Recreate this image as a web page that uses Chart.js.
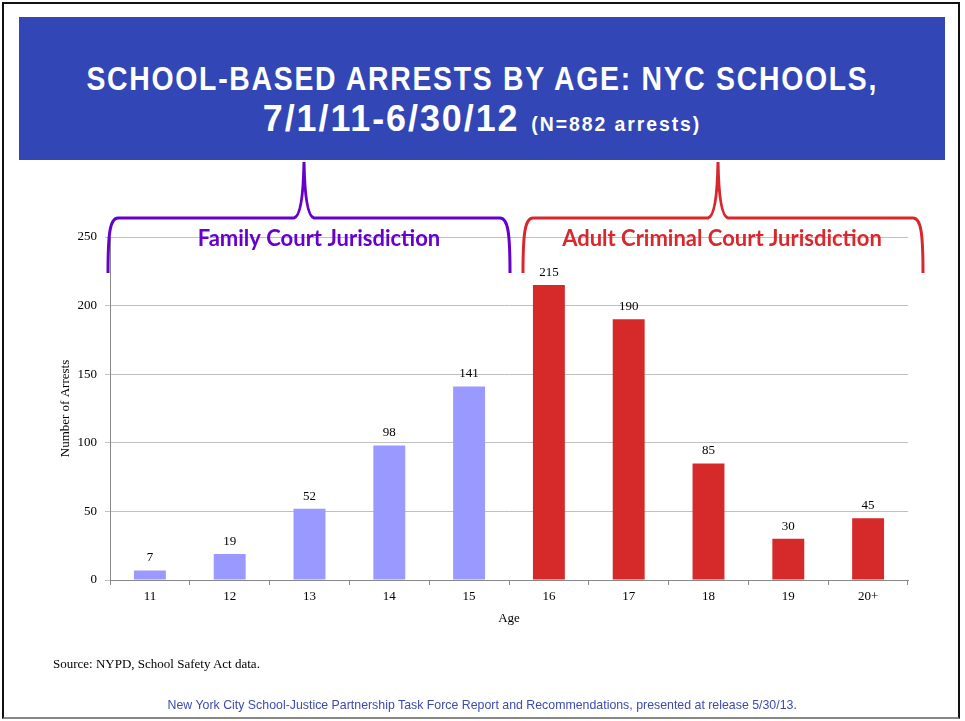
<!DOCTYPE html>
<html>
<head>
<meta charset="utf-8">
<script src="https://cdn.jsdelivr.net/npm/chart.js@4/dist/chart.umd.min.js"></script>
<style>
  html, body { margin: 0; padding: 0; background: #fff; }
  #page { position: relative; width: 965px; height: 721px; overflow: hidden; }
  #frame { position: absolute; left: 2px; top: 2px; width: 954px; height: 713px; border: 2px solid #111; border-bottom-color: #888; }
  #titleBox { position: absolute; left: 19px; top: 17px; width: 926px; height: 143px; background: #3247b5; color: #fff;
    font-family: "Liberation Sans", Arial, sans-serif; font-weight: bold; text-align: center; letter-spacing: 2px; }
  #titleBox span { display: inline-block; white-space: nowrap; }
  #t1 { position: absolute; left: 0; right: 0; top: 42px; font-size: 33px; line-height: 40px; }
  #t1 span { transform: scaleX(0.86); }
  #t2 { position: absolute; left: 0; right: 0; top: 80px; font-size: 37px; line-height: 44px; }
  #t2 span { transform: scaleX(0.97); }
  #t2 small { font-size: 20px; letter-spacing: 2px; }
  #source { position: absolute; left: 53px; top: 656px; font-family: "Liberation Serif", serif; font-size: 13px; color: #000; }
  #footer { position: absolute; left: 0; width: 965px; top: 697px; text-align: center; font-family: "Liberation Sans", Arial, sans-serif; font-size: 13px; color: #3c4bb0; }
  #footer span { display: inline-block; transform: scaleX(0.95); white-space: nowrap; }
  #chartWrap { position: absolute; left: 0; top: 0; width: 965px; height: 721px; }
</style>
</head>
<body>
<div id="page">
  <div id="frame"></div>
  <div id="titleBox">
    <div id="t1"><span>SCHOOL-BASED ARRESTS BY AGE: NYC SCHOOLS,</span></div>
    <div id="t2"><span>7/1/11-6/30/12 <small>(N=882 arrests)</small></span></div>
  </div>
  <div id="chartWrap"><canvas id="chartCanvas" width="965" height="721"></canvas></div>
  <div id="source">Source: NYPD, School Safety Act data.</div>
  <div id="footer"><span>New York City School-Justice Partnership Task Force Report and Recommendations, presented at release 5/30/13.</span></div>
</div>
<script>
const ages = ["11", "12", "13", "14", "15", "16", "17", "18", "19", "20+"];
const arrests = [7, 19, 52, 98, 141, 215, 190, 85, 30, 45];
const yTicks = [0, 50, 100, 150, 200, 250];
const familyColor = "#9999ff";
const adultColor = "#d62a2a";
const barColors = ages.map((_, i) => (i < 5 ? familyColor : adultColor));

// value labels above bars
const valueLabels = {
  id: "valueLabels",
  afterDatasetsDraw(chart) {
    const ctx = chart.ctx;
    const meta = chart.getDatasetMeta(0);
    ctx.save();
    ctx.font = "13px 'Liberation Serif', serif";
    ctx.fillStyle = "#000";
    ctx.textAlign = "center";
    ctx.textBaseline = "bottom";
    meta.data.forEach((bar, i) => {
      ctx.fillText(String(arrests[i]), bar.x, bar.y - 6);
    });
    ctx.restore();
  }
};

// curly braces over the two groups
function drawBrace(ctx, x1, x2, xm, yTop, yBar, yEnd, color) {
  ctx.beginPath();
  ctx.moveTo(x1, yEnd);
  ctx.bezierCurveTo(x1, yBar + 15, x1 + 2, yBar, x1 + 10, yBar);
  ctx.lineTo(xm - 10, yBar);
  ctx.quadraticCurveTo(xm - 1, yBar - 2, xm, yTop);
  ctx.quadraticCurveTo(xm + 1, yBar - 2, xm + 10, yBar);
  ctx.lineTo(x2 - 10, yBar);
  ctx.bezierCurveTo(x2 - 2, yBar, x2, yBar + 15, x2, yEnd);
  ctx.strokeStyle = color;
  ctx.lineWidth = 3;
  ctx.stroke();
}

const braces = {
  id: "braces",
  afterDraw(chart) {
    const ctx = chart.ctx;
    const x = chart.scales.x;
    const half = (x.getPixelForValue(1) - x.getPixelForValue(0)) / 2;
    const fL = x.getPixelForValue(0) - half - 2;
    const fR = x.getPixelForValue(4) + half + 1;
    const aL = x.getPixelForValue(5) - half + 14;
    const aR = x.getPixelForValue(9) + half + 15;
    ctx.save();
    drawBrace(ctx, fL, fR, 304, 162, 218, 273, "#6600cc");
    drawBrace(ctx, aL, aR, 718, 162, 218, 273, "#d8282e");
    ctx.font = "bold 22px Lato, 'Open Sans', sans-serif";
    ctx.textAlign = "center";
    ctx.textBaseline = "middle";
    ctx.fillStyle = "#6600cc";
    ctx.fillText("Family Court Jurisdiction", 319, 239);
    ctx.fillStyle = "#d8282e";
    ctx.fillText("Adult Criminal Court Jurisdiction", 722, 239);
    ctx.restore();
  }
};

new Chart(document.getElementById("chartCanvas"), {
  type: "bar",
  data: {
    labels: ages,
    datasets: [{
      label: "Number of Arrests",
      data: arrests,
      backgroundColor: barColors,
      barPercentage: 0.4,
      categoryPercentage: 1.0
    }]
  },
  options: {
    responsive: false,
    animation: false,
    layout: { padding: { left: 54, right: 57, top: 237, bottom: 91 } },
    plugins: { legend: { display: false }, tooltip: { enabled: false }, title: { display: false } },
    scales: {
      x: {
        grid: { offset: true, drawOnChartArea: false, color: "#888", tickLength: 5 },
        border: { color: "#888" },
        ticks: { color: "#000", font: { family: "'Liberation Serif', serif", size: 13 }, padding: 4 },
        title: { display: true, text: "Age", color: "#000", font: { family: "'Liberation Serif', serif", size: 13 }, padding: { top: 2 } },
        afterFit: (s) => { s.height = 50; }
      },
      y: {
        min: 0,
        max: 250,
        afterBuildTicks: (s) => { s.ticks = yTicks.map((v) => ({ value: v })); },
        grid: { color: "#c0c0c0", tickLength: 5 },
        border: { color: "#888" },
        ticks: { color: "#000", font: { family: "'Liberation Serif', serif", size: 13 }, padding: 8 },
        title: { display: true, text: "Number of Arrests", color: "#000", font: { family: "'Liberation Serif', serif", size: 13 } },
        afterFit: (s) => { s.width = 56; }
      }
    }
  },
  plugins: [valueLabels, braces]
});
</script>
</body>
</html>
